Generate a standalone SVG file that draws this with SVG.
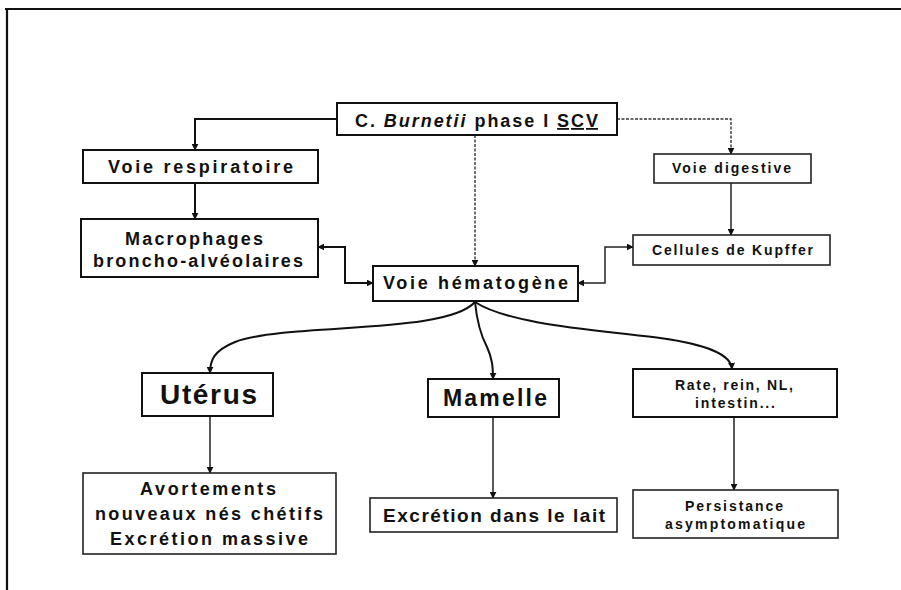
<svg xmlns="http://www.w3.org/2000/svg" width="901" height="590" viewBox="0 0 901 590">
  <style>
    .box { fill: #fff; stroke: #111; stroke-width: 2; }
    .thin { fill: #fff; stroke: #222; stroke-width: 1.6; }
    .lbl { font-family: "Liberation Sans", Arial, sans-serif; font-weight: bold; fill: #111; text-anchor: middle; }
    .m { font-size: 18px; }
    .s { font-size: 14px; }
    .wire { fill: none; stroke: #111; stroke-width: 2; }
    .wire-thin { fill: none; stroke: #222; stroke-width: 1.5; }
    .dash { fill: none; stroke: #333; stroke-width: 1.4; stroke-dasharray: 3 1.5; }
  </style>
  <defs>
    <marker id="arrow" viewBox="0 0 10 10" refX="9" refY="5" markerWidth="7" markerHeight="7" markerUnits="userSpaceOnUse" orient="auto-start-reverse">
      <path d="M0,0 L10,5 L0,10 z" fill="#111"/>
    </marker>
  </defs>

  <rect width="901" height="590" fill="#fff"/>
  <!-- frame -->
  <path d="M5,9 H901 M7,9 V590" fill="none" stroke="#111" stroke-width="2.2"/>

  <g id="connectors">
    <path class="wire" d="M337,119 H195 V150" marker-end="url(#arrow)"/>
    <path class="wire" d="M195,183 V219" marker-end="url(#arrow)"/>
    <path class="wire" d="M318,247 H345 V283 H373" marker-start="url(#arrow)" marker-end="url(#arrow)"/>
    <path class="dash" d="M475,135 V266" marker-end="url(#arrow)"/>
    <path class="dash" d="M617,119 H731 V154" marker-end="url(#arrow)"/>
    <path class="wire-thin" d="M731,183 V235" marker-end="url(#arrow)"/>
    <path class="wire-thin" d="M633,247 H605 V283 H578" marker-start="url(#arrow)" marker-end="url(#arrow)"/>
    <path class="wire" d="M475,302 C445,335 290,322 235,342 C213,351 210,361 210,373" marker-end="url(#arrow)"/>
    <path class="wire" d="M475,302 C477,322 480,334 487,347 C492,358 493,366 493,379" marker-end="url(#arrow)"/>
    <path class="wire" d="M475,302 C510,325 600,330 660,338 C710,345 731,355 732,369" marker-end="url(#arrow)"/>
    <path class="wire-thin" d="M210,416 V473" marker-end="url(#arrow)"/>
    <path class="wire-thin" d="M493,417 V498" marker-end="url(#arrow)"/>
    <path class="wire-thin" d="M734,417 V490" marker-end="url(#arrow)"/>
  </g>

  <g id="burnetii">
    <rect class="box" x="337" y="103" width="280" height="32"/>
    <text class="lbl m" x="476.5" y="127" textLength="243" lengthAdjust="spacing">C. <tspan font-style="italic">Burnetii</tspan> phase I <tspan text-decoration="underline">SCV</tspan></text>
  </g>

  <g id="voie-respiratoire">
    <rect class="box" x="83" y="150" width="235" height="33"/>
    <text class="lbl m" x="200.5" y="173" textLength="185" lengthAdjust="spacing">Voie respiratoire</text>
  </g>

  <g id="macrophages">
    <rect class="box" x="81" y="219" width="237" height="58"/>
    <text class="lbl m" x="194" y="245" textLength="138" lengthAdjust="spacing">Macrophages</text>
    <text class="lbl m" x="198" y="267" textLength="210" lengthAdjust="spacing">broncho-alvéolaires</text>
  </g>

  <g id="voie-hematogene">
    <rect class="box" x="373" y="266" width="205" height="35"/>
    <text class="lbl m" x="475.5" y="289" textLength="185" lengthAdjust="spacing">Voie hématogène</text>
  </g>

  <g id="voie-digestive">
    <rect class="thin" x="654" y="154" width="157" height="29"/>
    <text class="lbl s" x="731.5" y="173" textLength="119" lengthAdjust="spacing">Voie digestive</text>
  </g>

  <g id="kupffer">
    <rect class="thin" x="633" y="235" width="197" height="30"/>
    <text class="lbl s" x="732.5" y="255" textLength="161" lengthAdjust="spacing">Cellules de Kupffer</text>
  </g>

  <g id="uterus">
    <rect class="box" x="142" y="373" width="131" height="43"/>
    <text class="lbl" font-size="28" x="208.5" y="404" textLength="97" lengthAdjust="spacing">Utérus</text>
  </g>

  <g id="avortements">
    <rect class="thin" x="83" y="473" width="253" height="81"/>
    <text class="lbl m" x="208" y="495" textLength="136" lengthAdjust="spacing">Avortements</text>
    <text class="lbl m" x="209" y="520" textLength="228" lengthAdjust="spacing">nouveaux nés chétifs</text>
    <text class="lbl m" x="209" y="545" textLength="198" lengthAdjust="spacing">Excrétion massive</text>
  </g>

  <g id="mamelle">
    <rect class="box" x="428" y="379" width="131" height="38"/>
    <text class="lbl" font-size="23" x="495" y="406" textLength="104" lengthAdjust="spacing">Mamelle</text>
  </g>

  <g id="excretion-lait">
    <rect class="thin" x="370" y="498" width="247" height="34"/>
    <text class="lbl" font-size="19" x="494" y="522" textLength="222" lengthAdjust="spacing">Excrétion dans le lait</text>
  </g>

  <g id="organes">
    <rect class="box" x="633" y="369" width="204" height="48"/>
    <text class="lbl s" x="734" y="390" textLength="118" lengthAdjust="spacing">Rate, rein, NL,</text>
    <text class="lbl s" x="735" y="408" textLength="80" lengthAdjust="spacing">intestin...</text>
  </g>

  <g id="persistance">
    <rect class="thin" x="633" y="490" width="205" height="48"/>
    <text class="lbl s" x="734" y="511" textLength="98" lengthAdjust="spacing">Persistance</text>
    <text class="lbl s" x="735" y="529" textLength="140" lengthAdjust="spacing">asymptomatique</text>
  </g>
</svg>
